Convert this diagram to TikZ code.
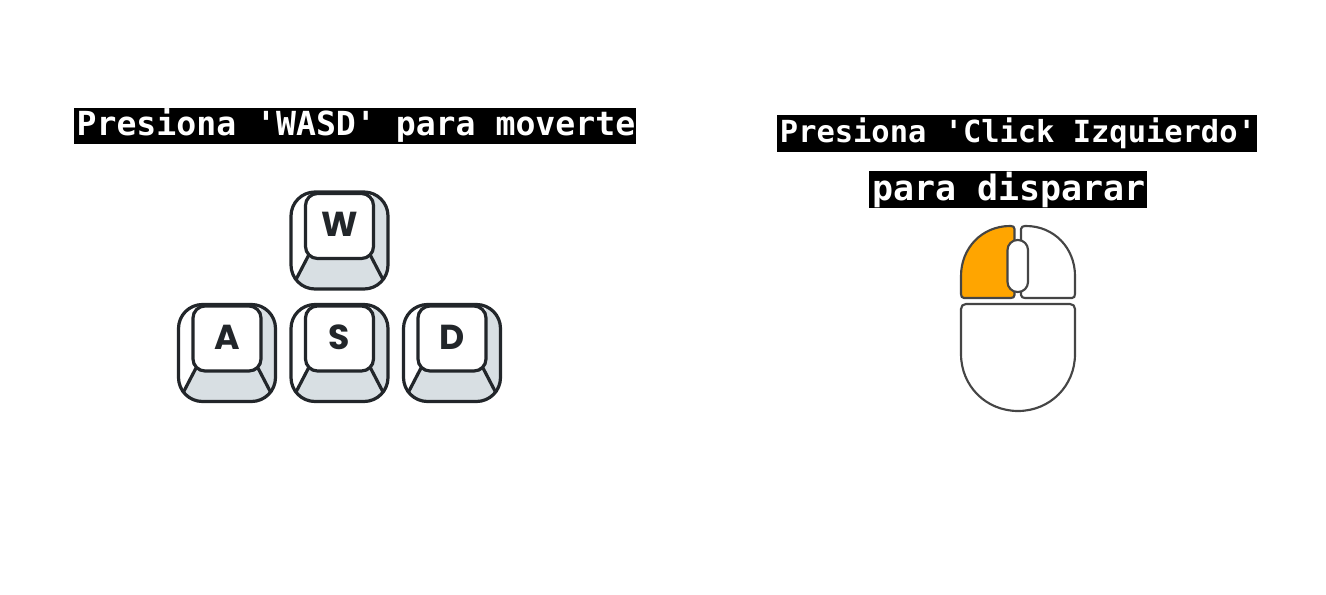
\documentclass[tikz,border=0pt]{standalone}
\usepackage{fontspec}
\newfontfamily\pixelfont{DejaVu Sans Mono}[Scale=1]
\newfontfamily\keyfont{Poppins Bold}
\definecolor{keydark}{HTML}{22262A}
\definecolor{keygrey}{HTML}{D8DFE3}
\definecolor{mouseline}{HTML}{454545}
\definecolor{mouseorange}{HTML}{FFA500}
\tikzset{
  x=0.75pt,y=-0.75pt,
  banner/.style={fill=black,inner sep=0pt,anchor=north west},
  bannertext/.style={text=white,inner sep=0pt,
    font=\pixelfont\bfseries\fontsize{24.6pt}{24.6pt}\selectfont},
  keyline/.style={draw=keydark,line width=2.4pt,line join=round},
  mouseedge/.style={draw=mouseline,line width=1.6pt,line join=round},
  keylabel/.style={text=keydark,inner sep=0pt,font=\keyfont\fontsize{26pt}{26pt}\selectfont},
  keycap/.pic={
    \begin{scope}
      \clip[rounded corners=18pt] (1.5,1.5) rectangle (98.5,98.5);
      \fill[white] (0,0) rectangle (100,100);
      \fill[keygrey] (84,0) -- (100,0) -- (100,100) -- (0,100) -- (6,90) -- (19,67) -- (80,67) -- cycle;
    \end{scope}
    \draw[keyline,rounded corners=18pt] (1.5,1.5) rectangle (98.5,98.5);
    \coordinate (-il) at (19,65);
    \coordinate (-ol) at (6,90);
    \coordinate (-ir) at (81,65);
    \coordinate (-or) at (94,90);
    \draw[keyline] (-il) -- (-ol);
    \draw[keyline] (-ir) -- (-or);
    \draw[keyline,fill=white,rounded corners=9pt] (16,3) rectangle (84,68);
    \node[keylabel] (-label) at (50,34) {#1};
  }
}
\begin{document}
\begin{tikzpicture}
\useasboundingbox (0,0) rectangle (1326,595);
% banners
\node[banner,minimum width=421.5pt,minimum height=27pt] (movebar) at (74,108) {};
\node[bannertext,xshift=0.5pt,yshift=-0.75pt] (movetext) at (movebar.center) {\strut\resizebox{419pt}{!}{Presiona 'WASD' para moverte}};
\node[banner,minimum width=360pt,minimum height=27.75pt] (clickbar) at (777,115) {};
\node[bannertext,xshift=0.5pt,yshift=-0.75pt] (clicktext) at (clickbar.center) {\strut\resizebox{357pt}{!}{Presiona 'Click Izquierdo'}};
\node[banner,minimum width=208.5pt,minimum height=27.75pt] (firebar) at (869,171) {};
\node[bannertext,xshift=0.5pt,yshift=-0.75pt] (firetext) at (firebar.center) {\strut\resizebox{205pt}{!}{para disparar}};
% keys
\pic (keyw) at (289.5,190.5) {keycap=W};
\pic (keya) at (177,303) {keycap=A};
\pic (keys) at (289.5,303) {keycap=S};
\pic (keyd) at (402,303) {keycap=D};
% mouse
\draw[mouseedge,fill=mouseorange] (961,294) .. controls (961,296.5) and (962,298) .. (964,298) -- (1011,298) .. controls (1013,298) and (1014.5,297) .. (1014.5,295)
  -- (1014.5,229) .. controls (1014.5,227) and (1013,226) .. (1011,226) -- (1010,226) .. controls (982,226) and (961,248) .. (961,276) -- cycle;
\draw[mouseedge,fill=white] (1075,294) .. controls (1075,296.5) and (1074,298) .. (1072,298) -- (1025,298) .. controls (1023,298) and (1021,297) .. (1021,295)
  -- (1021,229) .. controls (1021,227) and (1023,226) .. (1025,226) -- (1026,226) .. controls (1054,226) and (1075,248) .. (1075,276) -- cycle;
\draw[mouseedge,fill=white,rounded corners=7.5pt] (1007.5,240) rectangle (1028,292);
\draw[mouseedge,fill=white] (961,354) -- (961,309) .. controls (961,306) and (963,304) .. (966,304) -- (1070,304) .. controls (1073,304) and (1075,306) .. (1075,309)
  -- (1075,354) .. controls (1075,386) and (1050,411) .. (1018,411) .. controls (986,411) and (961,386) .. (961,354) -- cycle;
\end{tikzpicture}
\end{document}
